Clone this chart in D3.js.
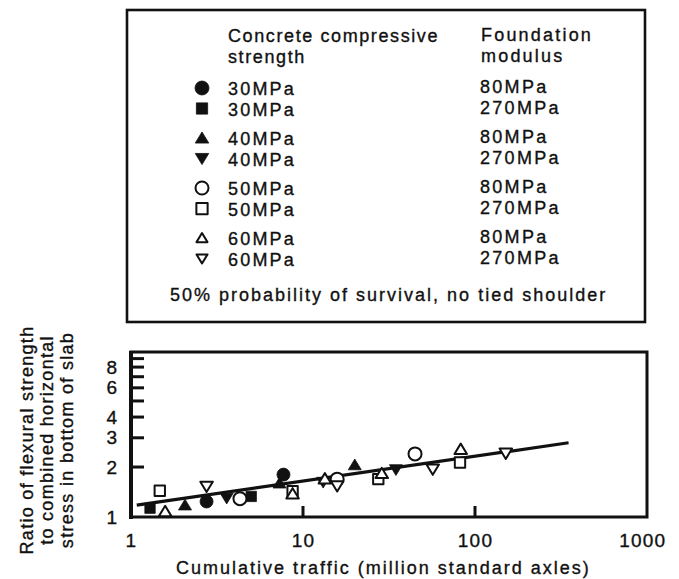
<!DOCTYPE html>
<html><head><meta charset="utf-8">
<script src="https://cdn.jsdelivr.net/npm/d3@7"></script>
<style>
html,body{margin:0;padding:0;background:#fff;}
svg{display:block;font-family:"Liberation Sans",Arial,Helvetica,sans-serif;}
</style></head>
<body><svg id="c" width="679" height="579"></svg>
<script>
// ---- data ----
const xTickValues = [1, 10, 100, 1000];
const xTickLabels = ["1", "10", "100", "1000"];
const xMarkValues = [10, 100];
const yTickValues = [1, 2, 3, 4, 5, 6, 7, 8, 9];
const yTickLabels = ["1", "2", "3", "4", "", "6", "", "8", ""];
const yMarkValues = [2, 3, 4, 5, 6, 7, 8, 9];

// [cumulative traffic (million std axles), ratio]
const filledCircle30_80   = [[2.75, 1.24], [7.7, 1.80]];
const filledSquare30_270  = [[1.29, 1.13], [5.0, 1.33]];
const filledTriUp40_80    = [[2.06, 1.18], [7.3, 1.60], [20, 2.06]];
const filledTriDown40_270 = [[3.6, 1.30], [13.1, 1.62], [34.7, 1.93]];
const openCircle50_80     = [[4.3, 1.29], [15.8, 1.69], [44.8, 2.40]];
const openSquare50_270    = [[1.47, 1.44], [8.7, 1.43], [27.4, 1.69], [81.8, 2.13]];
const openTriUp60_80      = [[1.58, 1.08], [8.7, 1.38], [13.4, 1.70], [28.7, 1.83], [82.6, 2.56]];
const openTriDown60_270   = [[2.75, 1.53], [15.8, 1.54], [56.8, 1.94], [151, 2.42]];

const fitLine = [[1.08, 1.18], [350, 2.80]];

const legendStrength = ["30MPa", "30MPa", "40MPa", "40MPa", "50MPa", "50MPa", "60MPa", "60MPa"];
const legendModulus  = ["80MPa", "270MPa", "80MPa", "270MPa", "80MPa", "270MPa", "80MPa", "270MPa"];
const legendMarkers  = ["fcircle", "fsquare", "ftriup", "ftridown", "ocircle", "osquare", "otriup", "otridown"];
const headerStrength = ["Concrete compressive", "strength"];
const headerModulus  = ["Foundation", "modulus"];
const footerText = "50% probability of survival, no tied shoulder";
const xTitle = "Cumulative traffic (million standard axles)";
const yTitle = ["Ratio of flexural strength", "to combined horizontal", "stress in bottom of slab"];

// ---- drawing ----
const svg = d3.select("#c");
const ink = "#111";
const txtStroke = 0.35;

function markerPath(kind, s) {
  const p = d3.path();
  const h = s / 2;
  if (kind.endsWith("circle")) {
    p.moveTo(h, 0); p.arc(0, 0, h, 0, 2 * Math.PI); p.closePath();
  } else if (kind.endsWith("square")) {
    const q = h * 0.9;
    p.rect(-q, -q, 2 * q, 2 * q);
  } else if (kind.endsWith("triup")) {
    p.moveTo(0, -h * 0.9); p.lineTo(h, h * 0.75); p.lineTo(-h, h * 0.75); p.closePath();
  } else {
    p.moveTo(0, h * 0.9); p.lineTo(h, -h * 0.75); p.lineTo(-h, -h * 0.75); p.closePath();
  }
  return p.toString();
}
function styleMarker(sel, kind, sw) {
  const filled = kind.startsWith("f");
  sel.attr("fill", filled ? ink : "#fff")
     .attr("stroke", ink)
     .attr("stroke-width", filled ? 0.8 : sw)
     .attr("stroke-linejoin", "round");
}
function textStyle(sel) {
  sel.attr("fill", ink).attr("stroke", ink).attr("stroke-width", txtStroke);
}

// Legend box
svg.append("rect").attr("x", 127).attr("y", 10).attr("width", 518).attr("height", 312)
  .attr("fill", "none").attr("stroke", ink).attr("stroke-width", 2.6);

const lg = svg.append("g").attr("font-size", 18).call(textStyle);
headerStrength.forEach((t, i) => lg.append("text").attr("x", 228).attr("y", 42 + i * 21)
  .attr("letter-spacing", 1.6).text(t));
headerModulus.forEach((t, i) => lg.append("text").attr("x", 481).attr("y", 41 + i * 21)
  .attr("letter-spacing", 2.2).text(t));

const rowY = legendStrength.map((d, i) => 95 + Math.floor(i / 2) * 50 + (i % 2) * 20.5);
legendStrength.forEach((t, i) => {
  lg.append("text").attr("x", 228).attr("y", rowY[i]).attr("letter-spacing", 2.2).text(t);
  lg.append("text").attr("x", 480).attr("y", rowY[i] - 2).attr("letter-spacing", 2.3).text(legendModulus[i]);
  const k = legendMarkers[i];
  let s = 14;
  if (k === "fsquare" || k === "osquare") s = 12.5;
  if (k === "ftriup" || k === "ftridown") s = 13.5;
  if (k === "ocircle") s = 13;
  if (k === "otriup" || k === "otridown") s = 11;
  const m = svg.append("path").attr("d", markerPath(k, s))
    .attr("transform", `translate(202,${rowY[i] - 7})`);
  styleMarker(m, k, 2);
});
lg.append("text").attr("x", 170).attr("y", 301).attr("letter-spacing", 2.0).text(footerText);

// Plot
const x = d3.scaleLog().domain([1, 1000]).range([131, 647]);
const y = d3.scaleLog().domain([1, 10]).range([517, 351]);

svg.append("rect").attr("x", 131).attr("y", 352).attr("width", 516).attr("height", 165)
  .attr("fill", "none").attr("stroke", ink).attr("stroke-width", 3);
svg.append("rect").attr("x", 129).attr("y", 351).attr("width", 4).attr("height", 168)
  .attr("fill", ink);

// inward tick marks
const yMarks = svg.append("g").attr("class", "ymarks");
yMarkValues.forEach(v => {
  yMarks.append("rect").attr("x", x(1)).attr("y", y(v) - 1.5)
    .attr("width", 13).attr("height", 3).attr("fill", ink);
});
const xMarks = svg.append("g").attr("class", "xmarks");
xMarkValues.forEach(v => {
  xMarks.append("rect").attr("x", x(v) - 1.5).attr("y", y(1) - 11)
    .attr("width", 3).attr("height", 11).attr("fill", ink);
});

// y axis labels
const yAxis = d3.axisLeft(y).tickValues(yTickValues).tickSize(0).tickPadding(14)
  .tickFormat((d, i) => yTickLabels[i]);
const yg = svg.append("g").attr("transform", "translate(131,0)").call(yAxis);
yg.select(".domain").remove();
yg.selectAll(".tick line").remove();
yg.selectAll(".tick text").call(textStyle).attr("font-size", 19)
  .attr("font-family", '"Liberation Sans",Arial,sans-serif');

// x axis labels
const xAxis = d3.axisBottom(x).tickValues(xTickValues).tickSize(0).tickPadding(17)
  .tickFormat((d, i) => xTickLabels[i]);
const xg = svg.append("g").attr("transform", "translate(0,517)").call(xAxis);
xg.select(".domain").remove();
xg.selectAll(".tick line").remove();
xg.selectAll(".tick text").call(textStyle).attr("font-size", 19).attr("letter-spacing", 1.2)
  .attr("font-family", '"Liberation Sans",Arial,sans-serif')
  .attr("dx", (d, i) => (i === xTickValues.length - 1 ? "-0.25em" : null));

// titles
svg.append("text").attr("x", 176).attr("y", 574).call(textStyle).attr("font-size", 18)
  .attr("letter-spacing", 2.0).text(xTitle);
yTitle.forEach((t, i) => {
  svg.append("text").attr("transform", `translate(${33 + i * 20},440) rotate(-90)`)
    .attr("text-anchor", "middle").call(textStyle).attr("font-size", 18)
    .attr("letter-spacing", 1.3).text(t);
});

// fit line
svg.append("path").datum(fitLine)
  .attr("d", d3.line().x(d => x(d[0])).y(d => y(d[1])))
  .attr("fill", "none").attr("stroke", ink).attr("stroke-width", 3.2);

// points
const pointSets = [
  [filledCircle30_80, "fcircle", 13],
  [filledSquare30_270, "fsquare", 11.5],
  [filledTriUp40_80, "ftriup", 13],
  [filledTriDown40_270, "ftridown", 13],
  [openCircle50_80, "ocircle", 13],
  [openSquare50_270, "osquare", 11.5],
  [openTriUp60_80, "otriup", 12.5],
  [openTriDown60_270, "otridown", 12.5]
];
pointSets.forEach(([data, kind, s]) => {
  const g = svg.append("g");
  g.selectAll("path").data(data).join("path")
    .attr("d", markerPath(kind, s))
    .attr("transform", d => `translate(${x(d[0])},${y(d[1])})`)
    .call(sel => styleMarker(sel, kind, 2));
});
</script></body></html>
